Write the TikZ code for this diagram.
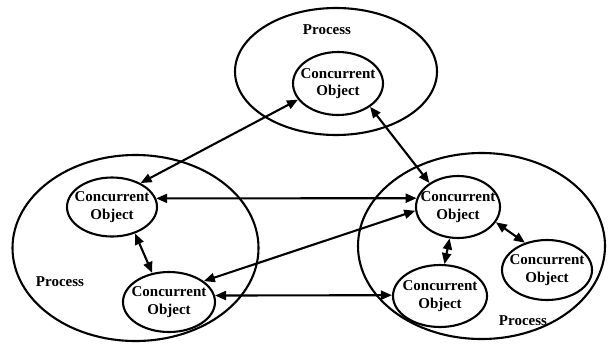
\documentclass[tikz,border=0pt]{standalone}
\usepackage{fontspec}
\setmainfont{Liberation Serif}
\usetikzlibrary{shapes.geometric,arrows.meta}

\begin{document}
\begin{tikzpicture}[x=1pt,y=-1pt,
  proc/.style={draw, ellipse, line width=2.1pt, inner sep=0pt},
  cotext/.style={font=\fontsize{15}{17.5}\selectfont\bfseries, align=center, inner sep=0pt},
  cobj/.style={draw, ellipse, line width=2.1pt, inner sep=0pt,
    label={[cotext]center:{Concurrent\\Object}}},
  ptext/.style={font=\fontsize{15}{17}\selectfont\bfseries, inner sep=0pt},
  link/.style={line width=2.1pt,
    {Triangle[length=11pt,width=9pt]}-{Triangle[length=11pt,width=9pt]}}
]
\fill[white] (0,0) rectangle (612,343);
\useasboundingbox (0,0) rectangle (612,343);

% processes
\node[proc, minimum width=202pt, minimum height=127pt] (ptop) at (336,71.5) {};
\node[proc, minimum width=246pt, minimum height=186pt] (pleft) at (135.5,248) {};
\node[proc, minimum width=247pt, minimum height=186pt] (pright) at (481.5,246) {};

\node[ptext] (ltop) at (327,30) {Process};
\node[ptext] (lleft) at (60,282) {Process};
\node[ptext] (lright) at (523,321) {Process};

% concurrent objects
\node[cobj, minimum width=90pt, minimum height=63pt] (t)  at (338,83.5) {};
\node[cobj, minimum width=90pt, minimum height=59pt] (l1) at (112,207) {};
\node[cobj, minimum width=92pt, minimum height=60pt] (l2) at (169,302) {};
\node[cobj, minimum width=84pt, minimum height=62pt] (r1) at (458,207) {};
\node[cobj, minimum width=94pt, minimum height=62pt] (r2) at (440,296) {};
\node[cobj, minimum width=90pt, minimum height=60pt] (r3) at (547,270) {};

% communication links
\draw[link] (t.202) -- (l1.40);
\draw[link] (t.-36) -- (r1.140);
\draw[link] (l1.11.2) -- (r1.168.1);
\draw[link] (l2.31.4) -- (r1.185.4);
\draw[link] (l2.8.2) -- (r2.179.4);
\draw[link] (l1.-49.4) -- (l2.120.7);
\draw[link] (r1.255.5) -- (r2.82.6);
\draw[link] (r1.-22) -- (r3.129.4);
\end{tikzpicture}
\end{document}
